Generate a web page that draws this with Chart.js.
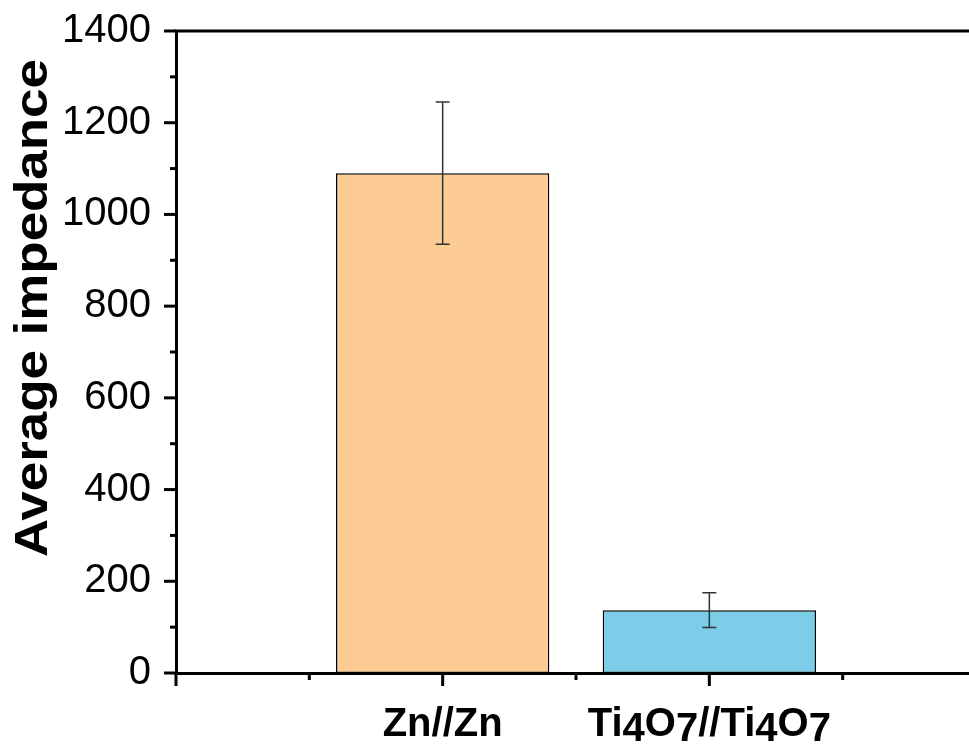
<!DOCTYPE html>
<html>
<head>
<meta charset="utf-8">
<script src="https://cdn.jsdelivr.net/npm/chart.js@4/dist/chart.umd.min.js"></script>
<style>
html,body{margin:0;padding:0;background:#fff;overflow:hidden;}
#wrap{width:985px;height:751px;}
</style>
</head>
<body>
<div id="wrap"><canvas id="c" width="985" height="751"></canvas></div>
<script>
// ---- data ----
const categories = ['Zn//Zn', 'Ti4O7//Ti4O7'];
const values = [1090, 137];
const errors = [155, 38];
const barColors = ['#FDCB94', '#7BCDE8'];
const yTicks = [0, 200, 400, 600, 800, 1000, 1200, 1400];
const yTitle = 'Average impedance';

const labels = ['', ...categories, ''];
const data = [null, ...values, null];
const colors = ['#fff', ...barColors, '#fff'];
const errs = [null, ...errors, null];

const axisPlugin = {
  id: 'axisDecor',
  afterDraw(chart) {
    const ctx = chart.ctx;
    const ca = chart.chartArea;
    const xs = chart.scales.x, ys = chart.scales.y;
    ctx.save();
    // top frame line
    ctx.strokeStyle = '#000';
    ctx.lineWidth = 3;
    ctx.beginPath();
    ctx.moveTo(ca.left - 1.5, ca.top);
    ctx.lineTo(ca.right, ca.top);
    ctx.stroke();
    // y ticks
    for (let v = yTicks[0]; v <= yTicks[yTicks.length - 1]; v += 100) {
      const y = ys.getPixelForValue(v);
      const major = yTicks.includes(v);
      const len = major ? 12 : 6;
      ctx.beginPath();
      ctx.moveTo(ca.left, y);
      ctx.lineTo(ca.left - len, y);
      ctx.stroke();
    }
    // x ticks
    for (let i = 0; i <= labels.length - 1; i += 0.5) {
      const x = xs.getPixelForValue(i);
      const major = Number.isInteger(i);
      const len = major ? 13 : 7;
      ctx.beginPath();
      ctx.moveTo(x, ca.bottom);
      ctx.lineTo(x, ca.bottom + len);
      ctx.stroke();
    }
    // error bars
    ctx.strokeStyle = '#333';
    ctx.lineWidth = 1.5;
    const meta = chart.getDatasetMeta(0);
    meta.data.forEach((bar, i) => {
      if (errs[i] == null || data[i] == null) return;
      const x = bar.x;
      const yt = ys.getPixelForValue(data[i] + errs[i]);
      const yb = ys.getPixelForValue(data[i] - errs[i]);
      ctx.beginPath();
      ctx.moveTo(x, yt); ctx.lineTo(x, yb);
      ctx.moveTo(x - 7, yt); ctx.lineTo(x + 7, yt);
      ctx.moveTo(x - 7, yb); ctx.lineTo(x + 7, yb);
      ctx.stroke();
    });
    // x category labels (digits lowered like subscripts)
    ctx.fillStyle = '#000';
    ctx.font = 'bold 40px "Liberation Sans", Arial, sans-serif';
    ctx.textBaseline = 'alphabetic';
    ctx.textAlign = 'left';
    categories.forEach((lab, k) => {
      const cx = xs.getPixelForValue(k + 1);
      const parts = lab.match(/\d+|\D+/g);
      const total = parts.reduce((s, p) => s + ctx.measureText(p).width, 0);
      let x = cx - total / 2;
      const base = 736;
      parts.forEach(p => {
        const dy = /\d/.test(p) ? 5 : 0;
        ctx.fillText(p, x, base + dy);
        x += ctx.measureText(p).width;
      });
    });
    // y title
    ctx.font = 'bold 46px "Liberation Sans", Arial, sans-serif';
    ctx.textAlign = 'center';
    ctx.translate(47, 308);
    ctx.rotate(-Math.PI / 2);
    ctx.scale(1.15, 1);
    ctx.fillText(yTitle, 0, 0);
    ctx.restore();
  }
};

new Chart(document.getElementById('c'), {
  type: 'bar',
  data: {
    labels: labels,
    datasets: [{
      data: data,
      backgroundColor: colors,
      borderColor: '#000',
      borderWidth: 1.5,
      borderSkipped: false,
      barPercentage: 0.8,
      categoryPercentage: 1.0
    }]
  },
  options: {
    responsive: false,
    animation: false,
    layout: { padding: { top: 31, right: 9, left: 0, bottom: 0 } },
    plugins: { legend: { display: false }, tooltip: { enabled: false } },
    scales: {
      x: {
        type: 'category',
        offset: false,
        grid: { display: false, drawTicks: false },
        border: { display: true, color: '#000', width: 3 },
        ticks: { display: false },
        afterFit(s) { s.height = 78; s.paddingLeft = 0; s.paddingRight = 0; }
      },
      y: {
        min: 0,
        max: 1400,
        grid: { display: false, drawTicks: false },
        border: { display: true, color: '#000', width: 3 },
        ticks: {
          stepSize: 200,
          padding: 25,
          color: '#000',
          font: { family: '"Liberation Sans", Arial, sans-serif', size: 40 },
          callback: (v) => String(v)
        },
        afterFit(s) { s.width = 176; s.paddingTop = 0; s.paddingBottom = 0; }
      }
    }
  },
  plugins: [axisPlugin]
});
</script>
</body>
</html>
